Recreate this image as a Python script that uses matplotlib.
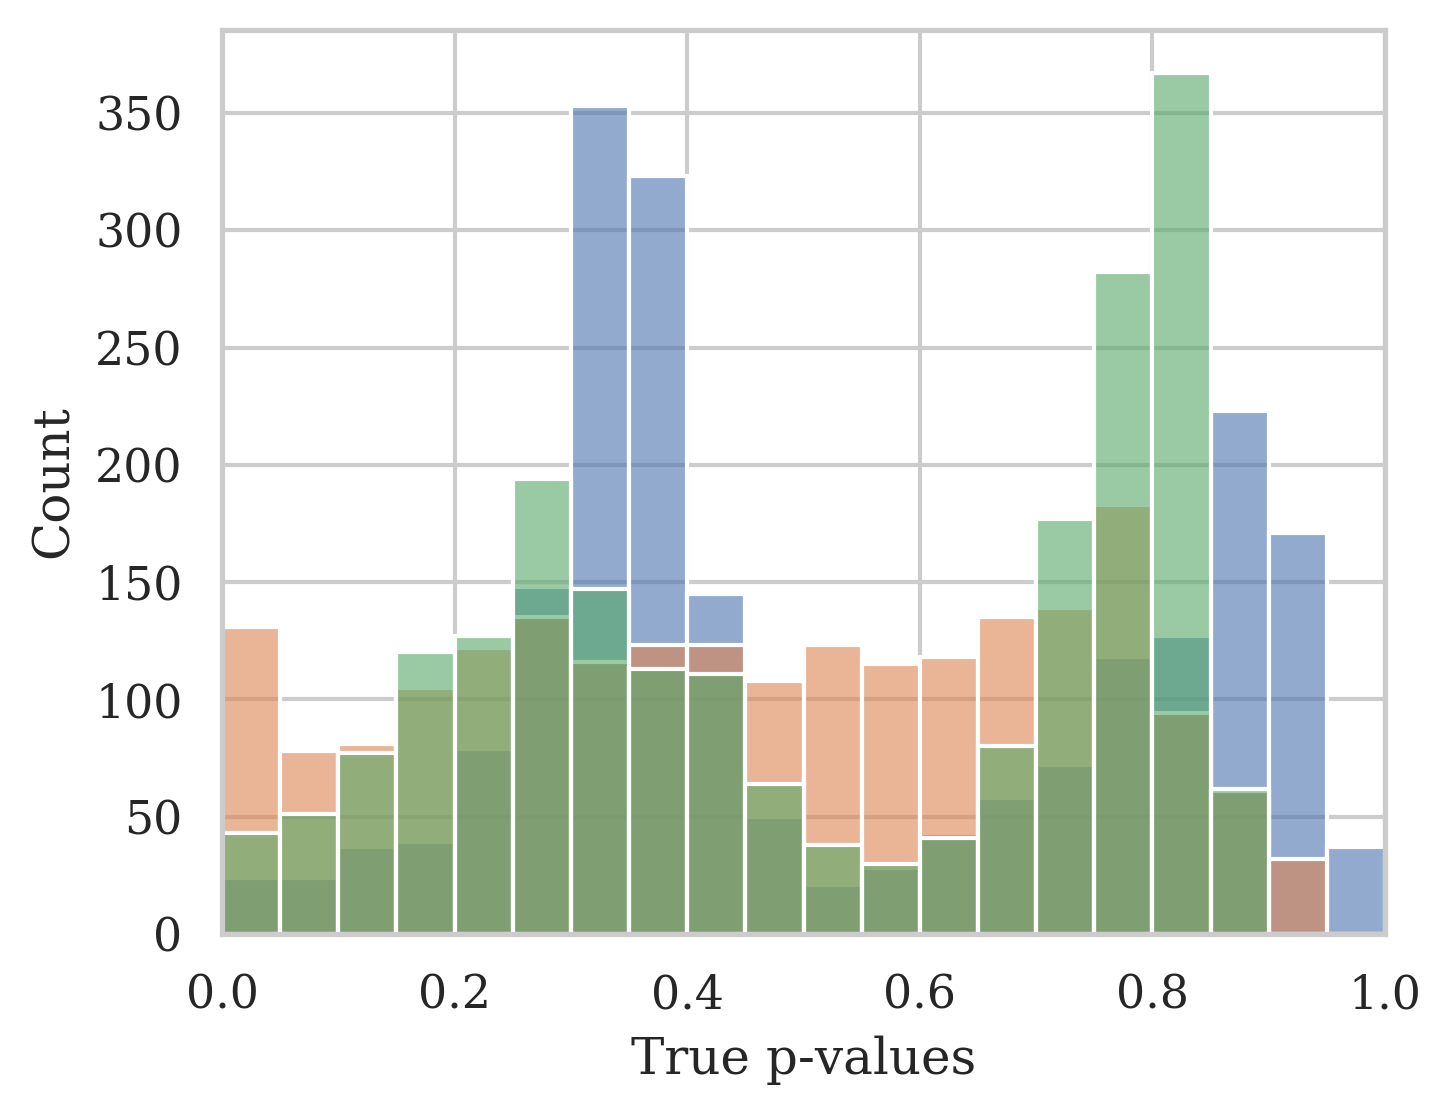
import numpy as np
import pandas as pd
import matplotlib
matplotlib.use("Agg")
import matplotlib.pyplot as plt
import seaborn as sns

# 20 bins of width 0.05 on [0, 1]
n_bins = 20
bin_centers = (np.arange(n_bins) + 0.5) / n_bins

# counts, one list per series
blue_counts = [24, 24, 37, 39, 79, 148, 353, 323, 145, 50,
               21, 28, 43, 58, 72, 118, 127, 223, 171, 37]
orange_counts = [131, 78, 81, 105, 122, 135, 116, 123, 123, 108,
                 123, 115, 118, 135, 139, 183, 94, 61, 32, 0]
green_counts = [43, 51, 77, 120, 127, 194, 147, 113, 111, 64,
                38, 30, 41, 80, 177, 282, 367, 62, 0, 0]

sns.set_theme(style="whitegrid", font="serif")
pal = sns.color_palette("deep")

fig = plt.figure(figsize=(4.84, 3.72), dpi=300)
ax = fig.add_axes([0.1529, 0.1631, 0.8010, 0.8100])

# drawn in order, green ends up on top
for counts, col in [(blue_counts, pal[0]), (orange_counts, pal[1]), (green_counts, pal[2])]:
    df = pd.DataFrame({"p": bin_centers, "w": np.asarray(counts, dtype=float)})
    sns.histplot(data=df, x="p", weights="w", bins=n_bins, binrange=(0, 1),
                 color=col, alpha=0.6, ax=ax)

ax.set_xlim(0, 1)
ax.set_xlabel("True p-values")
ax.set_ylabel("Count")

fig.savefig("out.png", dpi=300)
